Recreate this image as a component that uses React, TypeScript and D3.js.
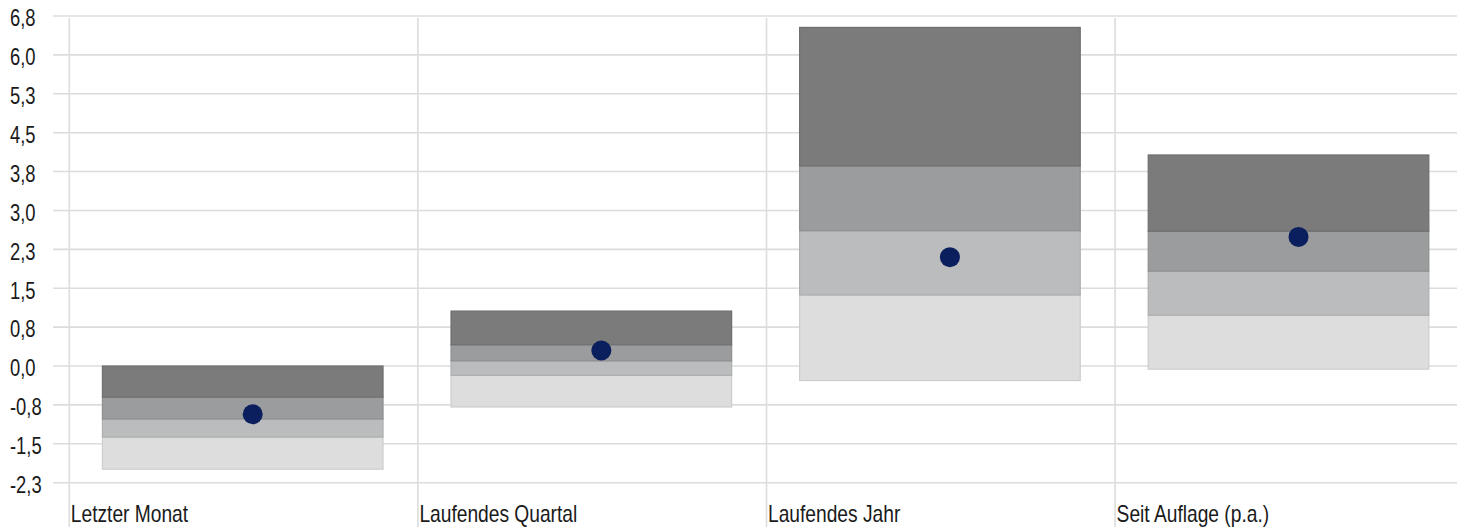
import React from "react";
import * as d3 from "d3";

const categories = ["Letzter Monat", "Laufendes Quartal", "Laufendes Jahr", "Seit Auflage (p.a.)"];
const lowValues = [-1.99, -0.79, -0.28, -0.06];
const q25Values = [-1.37, -0.18, 1.37, 0.98];
const q50Values = [-1.02, 0.1, 2.61, 1.83];
const q75Values = [-0.6, 0.41, 3.86, 2.6];
const highValues = [0.0, 1.06, 6.53, 4.07];
const fundValues = [-0.93, 0.3, 2.1, 2.49];
const yTicks = [6.75, 6.0, 5.25, 4.5, 3.75, 3.0, 2.25, 1.5, 0.75, 0, -0.75, -1.5, -2.25];

const W = 1457;
const H = 527;
const FONT = "'Liberation Sans', Arial, sans-serif";
const SX = 0.8;

const segFill = ["#dddddd", "#bbbcbd", "#9b9c9d", "#7b7b7c"];
const segStroke = ["#cdcdcd", "#adaeaf", "#8e8f90", "#6f6f70"];

const fmt = (v: number) => {
  const r = (Math.sign(v) * Math.round(Math.abs(v) * 10 + 1e-9)) / 10;
  return (Object.is(r, -0) ? 0 : r).toFixed(1).replace(".", ",");
};

export default function App() {
  const y = d3.scaleLinear().domain([-2.25, 6.75]).range([482.7, 16]);
  const x = d3
    .scaleBand<string>()
    .domain(categories)
    .range([69.3, 69.3 + 4 * 348.6])
    .paddingInner(0)
    .paddingOuter(0);
  const bw = x.bandwidth();
  const barOff = bw * 0.095;
  const barW = bw * 0.805;

  return (
    <svg width={W} height={H} style={{ position: "absolute", left: 0, top: 0, background: "#fff" }}>
      {yTicks.map((t) => (
        <g key={t}>
          <line x1={53} x2={W} y1={y(t)} y2={y(t)} stroke="#dcdcdc" strokeWidth={1.6} />
          <text
            transform={`translate(10,${y(t) + 2}) scale(${SX},1)`}
            dy="0.36em"
            fontFamily={FONT}
            fontSize={23}
            fill="#1a1a1a"
          >
            {fmt(t)}
          </text>
        </g>
      ))}
      {categories.map((c) => (
        <g key={c}>
          <line x1={x(c)!} x2={x(c)!} y1={18} y2={H} stroke="#dcdcdc" strokeWidth={1.6} />
          <text
            transform={`translate(${x(c)! + 1.5},522) scale(${SX},1)`}
            fontFamily={FONT}
            fontSize={24}
            fill="#1a1a1a"
          >
            {c}
          </text>
        </g>
      ))}
      {categories.map((c, i) => {
        const bounds = [lowValues[i], q25Values[i], q50Values[i], q75Values[i], highValues[i]];
        const x0 = x(c)! + barOff;
        return (
          <g key={"bar" + c}>
            {[0, 1, 2, 3].map((k) => (
              <rect
                key={k}
                x={x0}
                y={y(bounds[k + 1])}
                width={barW}
                height={y(bounds[k]) - y(bounds[k + 1])}
                fill={segFill[k]}
                stroke={segStroke[k]}
                strokeWidth={1.2}
              />
            ))}
            <circle cx={x0 + barW / 2 + 10} cy={y(fundValues[i])} r={10} fill="#0b1f5e" />
          </g>
        );
      })}
    </svg>
  );
}
